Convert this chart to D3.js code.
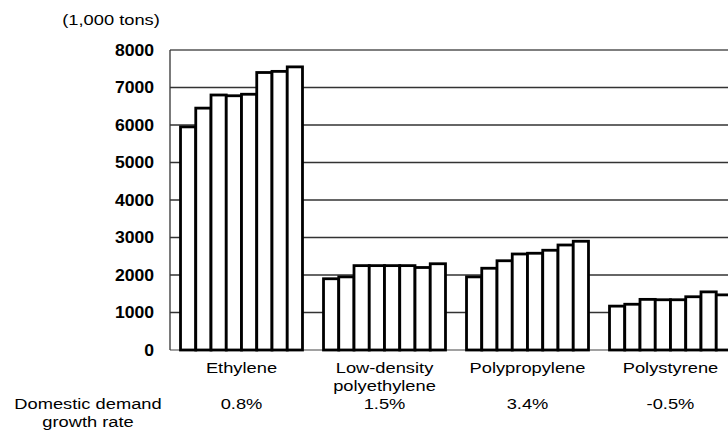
<!DOCTYPE html>
<html>
<head>
<meta charset="utf-8">
<script src="https://cdn.jsdelivr.net/npm/d3@7"></script>
<style>
  html, body { margin: 0; padding: 0; background: #fff; }
  svg { display: block; }
  text { font-family: "Liberation Sans", Arial, sans-serif; fill: #000; }
</style>
</head>
<body>
<svg id="chart" width="728" height="442"></svg>
<script>
// Production of major petrochemical products, eight consecutive years per product
const categories = ["Ethylene", "Low-density polyethylene", "Polypropylene", "Polystyrene"];
const categoryLines = [["Ethylene"], ["Low-density", "polyethylene"], ["Polypropylene"], ["Polystyrene"]];
const periods = ["p1", "p2", "p3", "p4", "p5", "p6", "p7", "p8"];
const ethylene = [5950, 6450, 6800, 6780, 6820, 7400, 7430, 7550];
const ldpe = [1900, 1950, 2250, 2250, 2250, 2250, 2200, 2300];
const polypropylene = [1950, 2180, 2380, 2560, 2580, 2660, 2800, 2900];
const polystyrene = [1170, 1220, 1350, 1340, 1340, 1420, 1550, 1470];
const growthRates = ["0.8%", "1.5%", "3.4%", "-0.5%"];
const yTicks = [0, 1000, 2000, 3000, 4000, 5000, 6000, 7000, 8000];
const unitLabel = "(1,000 tons)";
const growthLabel = ["Domestic demand", "growth rate"];

const series = [ethylene, ldpe, polypropylene, polystyrene];
const rows = categories.map((c, i) => ({ category: c, values: series[i] }));

const svg = d3.select("#chart");
const plotLeft = 170, plotTop = 50, plotBottom = 350;
// plot continues past the right edge of the page
const plotRight = 742;
const textStretch = 1.22;   // labels are set in a horizontally widened face

const x = d3.scaleBand().domain(categories).range([plotLeft, plotRight])
  .paddingInner(0.147).paddingOuter(0.0735);
const xi = d3.scaleBand().domain(periods).range([0, x.bandwidth()]);
const y = d3.scaleLinear().domain([0, 8000]).range([plotBottom, plotTop]);

// horizontal grid lines
svg.append("g").selectAll("line")
  .data(yTicks.filter(t => t > 0 && t < 8000))
  .join("line")
  .attr("x1", plotLeft).attr("x2", 728)
  .attr("y1", d => y(d)).attr("y2", d => y(d))
  .attr("stroke", "#333").attr("stroke-width", 1.4);

// frame: top edge, left axis, baseline
svg.append("line").attr("x1", plotLeft).attr("x2", 728)
  .attr("y1", y(8000)).attr("y2", y(8000))
  .attr("stroke", "#555").attr("stroke-width", 1.6);
svg.append("line").attr("x1", plotLeft).attr("x2", plotLeft)
  .attr("y1", y(8000)).attr("y2", y(0))
  .attr("stroke", "#333").attr("stroke-width", 1.3);
svg.append("line").attr("x1", plotLeft).attr("x2", 728)
  .attr("y1", y(0)).attr("y2", y(0))
  .attr("stroke", "#444").attr("stroke-width", 1.2);

// y axis labels
const tickStretch = 1.1;
const yAxis = d3.axisLeft(y).tickValues(yTicks).tickSize(0).tickPadding(16)
  .tickFormat(d3.format("d"));
const ya = svg.append("g").attr("transform", `translate(${plotLeft},0)`).call(yAxis);
ya.select(".domain").remove();
ya.selectAll("text")
  .attr("x", -16 / tickStretch)
  .attr("transform", `scale(${tickStretch},1)`)
  .style("font-family", "'Liberation Sans', Arial, sans-serif")
  .style("font-weight", "bold").style("font-size", "16px").attr("fill", "#000");

// bars
const groups = svg.append("g").selectAll("g")
  .data(rows).join("g")
  .attr("transform", d => `translate(${x(d.category)},0)`);
groups.selectAll("rect")
  .data(d => d.values.map((v, j) => ({ period: periods[j], value: v })))
  .join("rect")
  .attr("x", d => xi(d.period))
  .attr("width", xi.bandwidth())
  .attr("y", d => y(d.value))
  .attr("height", d => y(0) - y(d.value))
  .attr("fill", "#fff").attr("stroke", "#000").attr("stroke-width", 2.8);

// centred, widened label block (one tspan per line)
function label(cx, by, lines, lineGap) {
  const t = svg.append("text")
    .attr("transform", `translate(${cx},${by}) scale(${textStretch},1)`)
    .attr("text-anchor", "middle")
    .style("font-size", "15px");
  t.selectAll("tspan").data(lines).join("tspan")
    .attr("x", 0).attr("dy", (d, i) => i === 0 ? 0 : lineGap)
    .text(d => d);
}

// category labels and growth rates under each group
categories.forEach((c, i) => {
  const cx = x(c) + x.bandwidth() / 2;
  label(cx, 373, categoryLines[i], 18);
  label(cx, 409, [growthRates[i]], 18);
});

label(88, 409, growthLabel, 18);
label(111, 25, [unitLabel], 18);
</script>
</body>
</html>
